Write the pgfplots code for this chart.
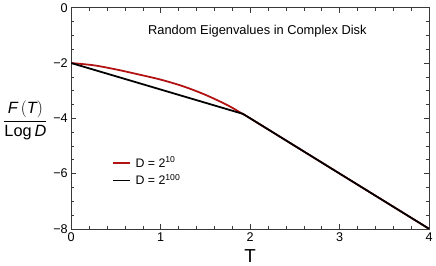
\documentclass[border=0pt]{standalone}
\usepackage{pgfplots}
\pgfplotsset{compat=1.18}
\usepackage{fontspec}
\setmainfont{Liberation Sans}
\definecolor{mred}{RGB}{178,18,18}
\begin{document}
\begin{tikzpicture}
\begin{axis}[
 scale only axis, width=361bp, height=223bp,
 xmin=0, xmax=4, ymin=-8, ymax=0,
 xtick={0,1,2,3,4}, ytick={-8,-6,-4,-2,0},
 xticklabels={0,1,2,3,4}, yticklabels={−8,−6,−4,−2,0},
 minor x tick num=4, minor y tick num=3,
 tick align=inside,
 major tick length=5bp, minor tick length=3bp,
 axis line style={gray!45!black, line width=0.7pt},
 every tick/.style={gray!45!black, line width=0.6pt},
 ticklabel style={font=\fontsize{12.8}{14}\selectfont},
 xlabel={T}, xlabel style={font=\fontsize{19}{22}\selectfont, yshift=-1bp},
 ylabel={$\displaystyle\frac{\textit{F}\,(\textit{T})}{\mathrm{Log}\,\textit{D}}$},
 ylabel style={rotate=-90, at={(axis description cs:-0.128,0.49)}, anchor=center, font=\fontsize{16.5}{19}\selectfont},
 legend style={draw=none, fill=none, at={(axis description cs:0.105,0.345)}, anchor=north west,
   font=\fontsize{12.5}{14}\selectfont, row sep=2bp,
   /tikz/every odd column/.append style={column sep=3bp}},
 legend cell align=left,
 legend image code/.code={\draw[#1] (0bp,0bp) -- (17bp,0bp);},
]
\addplot[mred, line width=1.8pt, smooth, tension=0.5] coordinates {
 (0,-2.00) (0.25,-2.08) (0.5,-2.23) (0.75,-2.41) (1.0,-2.60) (1.25,-2.84)
 (1.5,-3.15) (1.75,-3.53) (1.9,-3.81) (2.0,-4.0) (2.5,-5.0) (3,-6.0) (4,-8.0)};
\addlegendentry{D = 2\textsuperscript{10}}
\addplot[black, line width=1.8pt] coordinates {(0,-2) (1.92,-3.84) (2.0,-4.0) (4,-8)};
\addlegendentry{D = 2\textsuperscript{100}}
\node[font=\fontsize{13}{15}\selectfont] at (axis description cs:0.52,0.895) {Random Eigenvalues in Complex Disk};
\end{axis}
\end{tikzpicture}
\end{document}
